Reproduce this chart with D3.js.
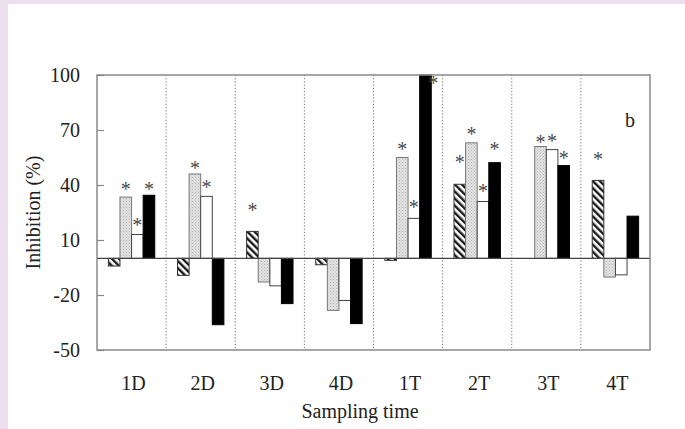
<!DOCTYPE html>
<html>
<head>
<meta charset="utf-8">
<script src="https://cdn.jsdelivr.net/npm/d3@7"></script>
<style>
  html, body { margin: 0; padding: 0; background: #ffffff; }
  svg { display: block; }
  text { font-family: "Liberation Serif", "Times New Roman", serif; fill: #222; }
</style>
</head>
<body>
<svg id="chart" width="685" height="429"></svg>
<script>
// ---- data ----
const categories = ["1D", "2D", "3D", "4D", "1T", "2T", "3T", "4T"];
const seriesNames = ["hatched", "dotted", "white", "black"];
const hatchedValues = [-4.2, -9.3, 14.7, -3.5, -1.1, 40.4, 0, 42.5];
const dottedValues  = [33.4, 46.0, -12.9, -28.4, 55.0, 63.0, 61.0, -10.2];
const whiteValues   = [13.0, 33.8, -15.0, -23.0, 21.8, 31.0, 59.3, -9.0];
const blackValues   = [34.4, -36.2, -24.7, -35.6, 100, 52.2, 50.6, 23.0];
// significance marker heights (null = no asterisk)
const hatchedStars = [null, null, 27.8, null, null, 53.8, null, 55.3];
const dottedStars  = [38.9, 50.7, null, null, 60.7, 69.3, 64.9, null];
const whiteStars   = [19.6, 40.4, null, null, 29.5, 38.2, 65.5, null];
const blackStars   = [39.3, null, null, null, 97.0, 61.1, 56.2, null];
const yTicks = [-50, -20, 10, 40, 70, 100];
const yDomain = [-50, 100];
const panelLabel = "b";
const yTitle = "Inhibition (%)";
const xTitle = "Sampling time";

const valuesBySeries = [hatchedValues, dottedValues, whiteValues, blackValues];
const starsBySeries = [hatchedStars, dottedStars, whiteStars, blackStars];

// ---- layout ----
const svg = d3.select("#chart");
const W = 685, H = 429;
const plot = { left: 97, right: 650, top: 75, bottom: 350 };

// background with lavender border strips
svg.append("rect").attr("x", 0).attr("y", 0).attr("width", W).attr("height", H).attr("fill", "#ece0ee");
svg.append("rect").attr("x", 8).attr("y", 4).attr("width", W - 8).attr("height", H - 4).attr("fill", "#ffffff");

// patterns
const defs = svg.append("defs");
const hatch = defs.append("pattern").attr("id", "hatch")
  .attr("patternUnits", "userSpaceOnUse").attr("width", 5).attr("height", 5)
  .attr("patternTransform", "rotate(-45)");
hatch.append("rect").attr("width", 5).attr("height", 5).attr("fill", "#fff");
hatch.append("rect").attr("x", 0).attr("y", 0).attr("width", 2.4).attr("height", 5).attr("fill", "#1a1a1a");

const dots = defs.append("pattern").attr("id", "dots")
  .attr("patternUnits", "userSpaceOnUse").attr("width", 3).attr("height", 3);
dots.append("rect").attr("width", 3).attr("height", 3).attr("fill", "#e2e2e2");
dots.append("rect").attr("x", 0).attr("y", 0).attr("width", 1).attr("height", 1).attr("fill", "#b5b5b5");
dots.append("rect").attr("x", 1.5).attr("y", 1.5).attr("width", 1).attr("height", 1).attr("fill", "#c4c4c4");

const fills = ["url(#hatch)", "url(#dots)", "#ffffff", "#000000"];
const strokes = ["#333", "#777", "#444", "#000"];

// scales
const x0 = d3.scaleBand().domain(categories).range([plot.left, plot.right]).padding(0);
const x1 = d3.scaleBand().domain(seriesNames).range([0, x0.bandwidth()])
  .paddingInner(0).paddingOuter(0.98);
const y = d3.scaleLinear().domain(yDomain).range([plot.bottom, plot.top]);

// dotted separators
const seps = categories.slice(1).map(c => x0(c));
svg.append("g").selectAll("line").data(seps).join("line")
  .attr("x1", d => d).attr("x2", d => d)
  .attr("y1", plot.top).attr("y2", plot.bottom)
  .attr("stroke", "#777").attr("stroke-width", 1).attr("stroke-dasharray", "1.2,2");

// bars
const barData = [];
categories.forEach((c, i) => {
  seriesNames.forEach((s, j) => {
    barData.push({ c, s, j, v: valuesBySeries[j][i], star: starsBySeries[j][i] });
  });
});

svg.append("g").selectAll("rect").data(barData.filter(d => d.v !== 0)).join("rect")
  .attr("x", d => x0(d.c) + x1(d.s))
  .attr("width", x1.bandwidth())
  .attr("y", d => y(Math.max(0, d.v)))
  .attr("height", d => Math.abs(y(d.v) - y(0)))
  .attr("fill", d => fills[d.j])
  .attr("stroke", d => strokes[d.j])
  .attr("stroke-width", 1);

// zero line
svg.append("line")
  .attr("x1", plot.left).attr("x2", plot.right)
  .attr("y1", y(0)).attr("y2", y(0))
  .attr("stroke", "#444").attr("stroke-width", 1.4);

// asterisks
svg.append("g").selectAll("text").data(barData.filter(d => d.star !== null)).join("text")
  .attr("x", d => {
    const bx = x0(d.c) + x1(d.s);
    return d.star > d.v ? bx + x1.bandwidth() / 2 : bx + x1.bandwidth() + 2;
  })
  .attr("y", d => y(d.star))
  .attr("dy", "0.47em")
  .attr("text-anchor", "middle")
  .attr("font-size", 20)
  .style("fill", "#4a4a4a")
  .text("*");

// frame
svg.append("rect")
  .attr("x", plot.left).attr("y", plot.top)
  .attr("width", plot.right - plot.left).attr("height", plot.bottom - plot.top)
  .attr("fill", "none").attr("stroke", "#8a8a8a").attr("stroke-width", 1.5);

// y axis
const yAxis = svg.append("g").attr("transform", `translate(${plot.left},0)`)
  .call(d3.axisLeft(y).tickValues(yTicks).tickFormat(d => String(d)).tickSize(-7).tickPadding(17));
yAxis.select(".domain").remove();
yAxis.selectAll(".tick line").attr("stroke", "#888").attr("stroke-width", 1.2);
yAxis.selectAll(".tick text").attr("font-size", 20)
  .attr("font-family", "Liberation Serif, Times New Roman, serif").style("fill", "#222");

// x axis
const xAxis = svg.append("g").attr("transform", `translate(2,${plot.bottom})`)
  .call(d3.axisBottom(x0).tickSize(0).tickPadding(26));
xAxis.select(".domain").remove();
xAxis.selectAll(".tick text").attr("font-size", 20)
  .attr("font-family", "Liberation Serif, Times New Roman, serif").style("fill", "#222");

// titles
svg.append("text")
  .attr("transform", "rotate(-90)")
  .attr("x", -(plot.top + plot.bottom) / 2).attr("y", 39.5)
  .attr("text-anchor", "middle").attr("font-size", 20)
  .text(yTitle);

svg.append("text")
  .attr("x", 360).attr("y", 418)
  .attr("text-anchor", "middle").attr("font-size", 20)
  .text(xTitle);

svg.append("text")
  .attr("x", 625).attr("y", 127)
  .attr("font-size", 20)
  .text(panelLabel);
</script>
</body>
</html>
